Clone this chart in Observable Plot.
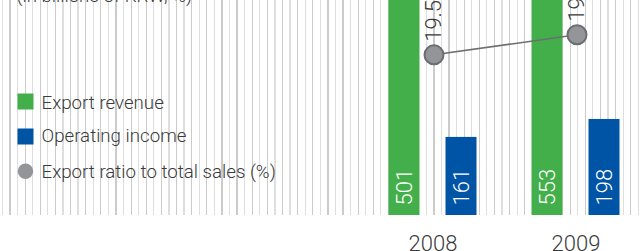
<!DOCTYPE html>
<html>
<head>
<meta charset="utf-8">
<script src="https://cdn.jsdelivr.net/npm/d3@7"></script>
<script src="https://cdn.jsdelivr.net/npm/@observablehq/plot@0.6"></script>
<style>
  html, body { margin: 0; padding: 0; background: #fff; }
  #chart {
    width: 641px;
    height: 251px;
    background-color: #fff;
    background-image: repeating-linear-gradient(90deg,
      transparent 0 1.8px, #dedede 1.8px 3.0px,
      transparent 3.0px 9.4px, #cbcbcb 9.4px 10.6px,
      transparent 10.6px 15.14px);
    background-size: 641px 215px;
    background-repeat: no-repeat;
  }
  #chart svg { display: block; background: transparent; }
</style>
</head>
<body>
<div id="chart"></div>
<script>
// ---- data ----
const years = [2008, 2009];
const exportRevenue = [501, 553];
const operatingIncome = [161, 198];
const exportRatio = [19.5, 19.9];
const seriesNames = ["Export revenue", "Operating income", "Export ratio to total sales (%)"];
const unitNote = "(in billions of KRW, %)";

const colors = {green: "#43af4b", blue: "#0054a5", gray: "#939598", grayDark: "#6d6e71", text: "#3a3a3a"};

const exportRows = years.map((year, i) => ({year, value: exportRevenue[i]}));
const incomeRows = years.map((year, i) => ({year, value: operatingIncome[i]}));
const ratioRows = years.map((year, i) => ({year, ratio: exportRatio[i]}));

// secondary (ratio) axis mapped into the primary y domain
const ratioToY = d3.scaleLinear([17, 20], [73, 383]);

const W = 641, H = 251;
const legendSize = 18.7;
const chart = Plot.plot({
  width: W,
  height: H,
  marginTop: 0,
  marginBottom: 36,
  marginLeft: 0,
  marginRight: 0,
  style: {fontFamily: "Roboto, 'Helvetica Neue', Arial, sans-serif", fontSize: "22px", fontWeight: 300, color: colors.text, background: "transparent", overflow: "hidden"},
  x: {type: "band", domain: years, range: [360.5, 646.5], padding: 0, label: null},
  y: {domain: [0, 443.3], axis: null},
  marks: [
    // bars
    Plot.barY(exportRows, {x: "year", y: "value", fill: colors.green, dx: -28.5, insetLeft: 56, insetRight: 56}),
    Plot.barY(incomeRows, {x: "year", y: "value", fill: colors.blue, dx: 28.5, insetLeft: 56, insetRight: 56}),
    // bar values
    Plot.text(exportRows, {x: "year", frameAnchor: "bottom", text: d => String(d.value), rotate: -90, textAnchor: "start", lineAnchor: "middle", dx: -28.5, dy: -10, fill: "white", fontSize: 22}),
    Plot.text(incomeRows, {x: "year", frameAnchor: "bottom", text: d => String(d.value), rotate: -90, textAnchor: "start", lineAnchor: "middle", dx: 28.5, dy: -10, fill: "white", fontSize: 22}),
    // ratio line
    Plot.line(ratioRows, {x: "year", y: d => ratioToY(d.ratio), stroke: colors.grayDark, strokeWidth: 1.5, dx: 1}),
    Plot.dot(ratioRows, {x: "year", y: d => ratioToY(d.ratio), r: 9.5, fill: colors.gray, stroke: colors.grayDark, strokeWidth: 2, dx: 1}),
    Plot.text(ratioRows, {x: "year", y: d => ratioToY(d.ratio), text: d => d.ratio.toFixed(1), rotate: -90, textAnchor: "start", lineAnchor: "middle", dx: 1, dy: -13, fill: colors.text, fontSize: 22}),
    // unit note (cut at top)
    Plot.text([unitNote], {frameAnchor: "top-left", text: d => d, textAnchor: "start", lineAnchor: "middle", dx: 16, dy: -4.8, fill: colors.text, fontSize: legendSize}),
    // legend
    Plot.dot([seriesNames[0]], {frameAnchor: "top-left", dx: 25, dy: 101, symbol: "square", r: 9.03, fill: colors.green}),
    Plot.dot([seriesNames[1]], {frameAnchor: "top-left", dx: 25, dy: 136, symbol: "square", r: 9.03, fill: colors.blue}),
    Plot.dot([seriesNames[2]], {frameAnchor: "top-left", dx: 25, dy: 170.7, r: 7.7, fill: colors.gray}),
    Plot.text([seriesNames[0]], {frameAnchor: "top-left", text: d => d, textAnchor: "start", lineAnchor: "middle", dx: 41, dy: 102.6, fill: colors.text, fontSize: legendSize}),
    Plot.text([seriesNames[1]], {frameAnchor: "top-left", text: d => d, textAnchor: "start", lineAnchor: "middle", dx: 41, dy: 136, fill: colors.text, fontSize: legendSize}),
    Plot.text([seriesNames[2]], {frameAnchor: "top-left", text: d => d, textAnchor: "start", lineAnchor: "middle", dx: 41, dy: 171.3, fill: colors.text, fontSize: legendSize}),
    // year axis
    Plot.axisX({tickSize: 0, tickPadding: 20, fontSize: 22, fill: colors.text, label: null, tickFormat: d => String(d)})
  ]
});
document.getElementById("chart").appendChild(chart);
</script>
</body>
</html>
